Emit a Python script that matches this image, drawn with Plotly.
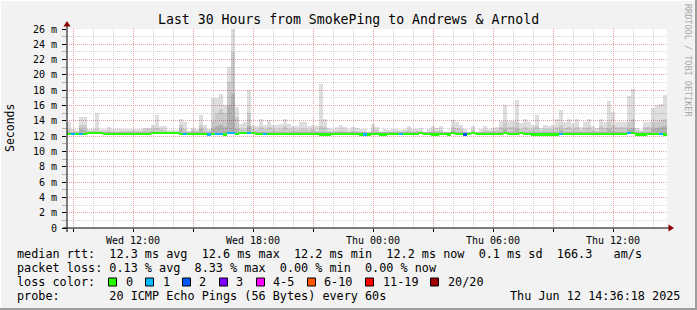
import plotly.graph_objects as go
import pandas as pd

# ---------------- data ----------------
title = "Last 30 Hours from SmokePing to Andrews & Arnold"
start = pd.Timestamp("2025-06-11 08:42")
end = pd.Timestamp("2025-06-12 14:42")
bin_minutes = 12

# smoke: highest ping per 12-min bin (ms)
smoke_max = [
    13.9, 12.9, 12.8, 14.5, 14.5, 13.0, 12.9, 15.0, 13.0, 13.0, 13.2, 12.9, 12.9, 13.0, 13.0,
    13.0, 13.0, 13.0, 13.0, 13.1, 13.1, 13.4, 14.8, 13.3, 13.3, 12.8, 12.8, 12.8, 14.2, 13.9,
    12.7, 13.1, 13.0, 14.8, 13.5, 13.0, 17.0, 17.0, 17.5, 16.1, 21.1, 28.0, 15.8, 13.6, 13.8,
    18.0, 13.5, 13.3, 14.3, 13.5, 14.1, 13.5, 13.4, 13.6, 14.3, 13.6, 13.3, 13.3, 13.8, 13.8,
    13.3, 13.5, 13.3, 18.8, 14.3, 13.1, 13.0, 13.2, 13.5, 13.2, 13.0, 13.2, 13.1, 12.9, 13.0,
    12.6, 13.6, 13.2, 12.6, 12.9, 12.8, 12.9, 13.0, 12.8, 13.0, 13.3, 12.9, 13.0, 13.1, 12.6,
    12.9, 13.3, 13.1, 13.3, 12.6, 12.6, 14.1, 13.9, 13.5, 12.9, 12.6, 13.3, 12.6, 12.9, 13.3,
    13.0, 13.1, 13.2, 14.0, 16.1, 14.0, 14.0, 16.7, 13.7, 14.2, 13.8, 13.5, 14.8, 13.1, 13.4,
    13.3, 13.4, 14.2, 15.4, 13.8, 14.3, 13.7, 14.2, 13.2, 13.8, 14.2, 13.3, 13.1, 14.3, 13.8,
    16.6, 15.2, 13.9, 13.9, 13.9, 17.2, 18.1, 13.1, 12.8, 13.9, 13.9, 15.7, 16.1, 16.2, 17.4,
]
# smoke: inner (mid) percentile per bin (ms)
smoke_mid = [
    13.0, 12.6, 12.6, 13.5, 13.4, 12.7, 12.7, 13.0, 12.7, 12.7, 12.8, 12.6, 12.6, 12.7, 12.7,
    12.7, 12.7, 12.7, 12.7, 12.9, 12.9, 13.0, 13.1, 12.9, 12.8, 12.6, 12.6, 12.6, 13.5, 13.0,
    12.5, 12.8, 12.7, 13.5, 13.0, 12.7, 14.0, 15.0, 15.5, 15.0, 19.1, 23.0, 14.5, 13.0, 13.0,
    15.0, 13.0, 12.8, 13.2, 12.9, 13.2, 12.9, 12.8, 12.9, 13.3, 12.9, 12.8, 12.8, 13.0, 13.0,
    12.8, 12.9, 12.7, 13.3, 13.2, 12.7, 12.6, 12.7, 12.8, 12.7, 12.6, 12.7, 12.7, 12.6, 12.6,
    12.5, 13.0, 12.8, 12.5, 12.6, 12.6, 12.6, 12.7, 12.6, 12.7, 12.8, 12.6, 12.7, 12.7, 12.5,
    12.6, 12.8, 12.7, 12.8, 12.5, 12.5, 13.2, 13.1, 12.9, 12.6, 12.5, 12.8, 12.5, 12.6, 12.8,
    12.7, 12.7, 12.8, 13.2, 13.8, 13.2, 13.2, 13.8, 13.0, 13.2, 13.0, 12.9, 13.3, 12.8, 12.9,
    12.9, 12.9, 13.2, 13.4, 13.1, 13.2, 13.0, 13.2, 12.8, 13.1, 13.2, 12.8, 12.7, 13.3, 13.1,
    13.8, 13.5, 13.2, 13.2, 13.2, 13.8, 14.2, 12.8, 12.6, 13.2, 13.2, 13.8, 13.9, 14.0, 14.3,
]
# smoke: innermost (dark) percentile per bin (ms)
smoke_dark = [
    12.5, 12.5, 12.5, 12.9, 12.8, 12.5, 12.5, 12.5, 12.5, 12.5, 12.5, 12.5, 12.5, 12.5, 12.5,
    12.5, 12.5, 12.5, 12.5, 12.5, 12.5, 12.5, 12.6, 12.5, 12.5, 12.5, 12.5, 12.5, 13.0, 12.6,
    12.5, 12.5, 12.5, 12.9, 12.6, 12.5, 13.0, 13.3, 13.5, 13.2, 15.9, 17.5, 13.0, 12.6, 12.6,
    13.3, 12.6, 12.5, 12.6, 12.5, 12.6, 12.5, 12.5, 12.5, 12.6, 12.5, 12.5, 12.5, 12.5, 12.5,
    12.5, 12.5, 12.5, 12.6, 12.6, 12.5, 12.5, 12.5, 12.5, 12.5, 12.5, 12.5, 12.5, 12.5, 12.5,
    12.5, 12.6, 12.5, 12.5, 12.5, 12.5, 12.5, 12.5, 12.5, 12.5, 12.5, 12.5, 12.5, 12.5, 12.5,
    12.5, 12.5, 12.5, 12.5, 12.5, 12.5, 12.7, 12.6, 12.6, 12.5, 12.5, 12.5, 12.5, 12.5, 12.5,
    12.5, 12.5, 12.5, 12.6, 12.9, 12.6, 12.6, 12.9, 12.6, 12.6, 12.6, 12.5, 12.6, 12.5, 12.5,
    12.5, 12.5, 12.6, 12.8, 12.6, 12.6, 12.5, 12.6, 12.5, 12.6, 12.6, 12.5, 12.5, 12.6, 12.6,
    13.0, 12.7, 12.6, 12.6, 12.6, 13.0, 13.1, 12.5, 12.5, 12.6, 12.6, 13.0, 13.1, 13.2, 13.3,
]
# median rtt per bin (ms)
median = [
    12.3, 12.3, 12.3, 12.3, 12.3, 12.4, 12.4, 12.4, 12.4, 12.3, 12.3, 12.3, 12.3, 12.3, 12.3,
    12.3, 12.3, 12.3, 12.3, 12.3, 12.3, 12.4, 12.4, 12.4, 12.4, 12.4, 12.4, 12.4, 12.3, 12.3,
    12.3, 12.3, 12.3, 12.3, 12.3, 12.2, 12.3, 12.3, 12.3, 12.2, 12.4, 12.4, 12.3, 12.4, 12.4,
    12.4, 12.4, 12.3, 12.3, 12.3, 12.3, 12.3, 12.3, 12.3, 12.3, 12.3, 12.3, 12.3, 12.3, 12.3,
    12.3, 12.3, 12.3, 12.2, 12.2, 12.2, 12.3, 12.3, 12.3, 12.3, 12.3, 12.3, 12.3, 12.2, 12.2,
    12.2, 12.3, 12.3, 12.2, 12.2, 12.3, 12.3, 12.3, 12.3, 12.3, 12.3, 12.3, 12.3, 12.4, 12.3,
    12.3, 12.2, 12.2, 12.3, 12.3, 12.2, 12.4, 12.3, 12.3, 12.2, 12.3, 12.4, 12.3, 12.3, 12.3,
    12.3, 12.3, 12.3, 12.3, 12.4, 12.3, 12.3, 12.3, 12.4, 12.3, 12.3, 12.2, 12.2, 12.2, 12.2,
    12.2, 12.2, 12.2, 12.3, 12.3, 12.3, 12.3, 12.3, 12.3, 12.3, 12.3, 12.3, 12.3, 12.3, 12.3,
    12.3, 12.3, 12.3, 12.3, 12.3, 12.4, 12.4, 12.2, 12.2, 12.2, 12.3, 12.3, 12.3, 12.3, 12.2,
]
# lost pings (of 20) per bin
loss = [
    0, 1, 0, 1, 0, 0, 0, 0, 0, 0, 0, 0, 0, 0, 0,
    0, 0, 0, 0, 0, 0, 0, 0, 0, 0, 0, 0, 0, 0, 1,
    0, 0, 0, 0, 0, 1, 0, 1, 1, 0, 1, 1, 0, 0, 0,
    1, 0, 0, 0, 1, 0, 0, 0, 0, 0, 0, 0, 0, 0, 0,
    0, 0, 0, 0, 0, 0, 0, 0, 0, 0, 0, 0, 0, 0, 1,
    0, 0, 0, 0, 0, 0, 0, 0, 1, 0, 0, 0, 0, 0, 0,
    0, 0, 0, 0, 0, 0, 0, 0, 0, 2, 0, 0, 0, 0, 0,
    0, 0, 0, 0, 0, 0, 0, 0, 0, 0, 0, 0, 0, 0, 0,
    0, 0, 0, 1, 0, 0, 0, 0, 0, 0, 0, 0, 0, 0, 0,
    0, 0, 0, 0, 0, 1, 0, 0, 0, 0, 0, 0, 0, 1, 0,
]
loss_labels = ["0", "1", "2", "3", "4-5", "6-10", "11-19", "20/20"]
loss_colors = ["#26ff00", "#00b8ff", "#0059ff", "#7e00ff", "#ff00ff", "#ff5500", "#ff0000", "#a10000"]
y_ticks = list(range(0, 27, 2))
y_ticktext = ["0" if v == 0 else f"{v} m" for v in y_ticks]

legend_lines = [
    "median rtt:  12.3 ms avg  12.6 ms max  12.2 ms min  12.2 ms now  0.1 ms sd  166.3   am/s",
    "packet loss: 0.13 % avg  8.33 % max  0.00 % min  0.00 % now",
    "loss color:",
    "probe:       20 ICMP Echo Pings (56 Bytes) every 60s",
]
stamp = "Thu Jun 12 14:36:18 2025"

# ---------------- layout helpers ----------------
W, H = 697, 310
L, R, T, B = 67, 667, 29, 228
MONO = "DejaVu Sans Mono"


def fx(x):
    return (x - L) / (R - L)


def fy(y):
    return (B - y) / (B - T)


def loss_color(n):
    if n <= 3:
        return loss_colors[n]
    if n <= 5:
        return loss_colors[4]
    if n <= 10:
        return loss_colors[5]
    if n <= 19:
        return loss_colors[6]
    return loss_colors[7]


centers = pd.date_range(start + pd.Timedelta(minutes=bin_minutes / 2), periods=len(median),
                        freq=f"{bin_minutes}min")
bw = bin_minutes * 60 * 1000

fig = go.Figure()
for arr, col in [(smoke_max, "rgba(0,0,0,0.13)"), (smoke_mid, "rgba(0,0,0,0.09)"),
                 (smoke_dark, "rgba(0,0,0,0.12)")]:
    fig.add_trace(go.Bar(x=centers, y=[a - m for a, m in zip(arr, median)], base=median,
                         width=bw, marker=dict(color=col, line=dict(width=0)),
                         hoverinfo="skip", showlegend=False))
fig.add_trace(go.Bar(x=centers, y=[0.32] * len(median), base=[m - 0.16 for m in median],
                     width=bw, marker=dict(color=[loss_color(n) for n in loss], line=dict(width=0)),
                     hoverinfo="skip", showlegend=False))

xt = pd.date_range("2025-06-11 09:00", "2025-06-12 14:00", freq="3h")
xtt = [t.strftime("%a %H:%M") if t.hour % 6 == 0 else "" for t in xt]

fig.update_layout(
    width=W, height=H, margin=dict(l=L, r=W - R, t=T, b=H - B),
    paper_bgcolor="#f2f2f2", plot_bgcolor="#ffffff",
    barmode="overlay", bargap=0,
    font=dict(family=MONO, size=10, color="#000000"),
    xaxis=dict(type="date", range=[start, end], tickvals=xt, ticktext=xtt,
               showgrid=True, gridcolor="#eba0a0", griddash="1px,1px", gridwidth=1,
               ticks="outside", ticklen=3, tickcolor="#000000", showline=False, zeroline=False,
               tickfont=dict(family=MONO, size=10, color="#000000"),
               minor=dict(dtick=3600000, tick0="2025-06-11 00:00", showgrid=True,
                          gridcolor="#d2d2d2", griddash="1px,1px", ticks="")),
    yaxis=dict(range=[0, 26], tickvals=y_ticks, ticktext=y_ticktext,
               showgrid=True, gridcolor="#eba0a0", griddash="1px,1px", gridwidth=1,
               ticks="outside", ticklen=4, tickcolor="#000000", showline=False, zeroline=False,
               ticklabelstandoff=3,
               tickfont=dict(family=MONO, size=10, color="#000000"),
               minor=dict(dtick=1, showgrid=True, gridcolor="#d2d2d2", griddash="1px,1px",
                          ticks="outside", ticklen=4, tickcolor="#b0b0b0")),
)

shapes = []
# axes lines + arrows
shapes.append(dict(type="line", xref="paper", yref="paper", x0=fx(L), x1=fx(L), y0=fy(232), y1=fy(24),
                   line=dict(color="#000000", width=1)))
shapes.append(dict(type="line", xref="paper", yref="paper", x0=fx(63), x1=fx(670), y0=fy(B), y1=fy(B),
                   line=dict(color="#000000", width=1)))
shapes.append(dict(type="path", xref="paper", yref="paper",
                   path=f"M {fx(63.5)} {fy(26.5)} L {fx(70.5)} {fy(26.5)} L {fx(67)} {fy(21)} Z",
                   fillcolor="#8b0000", line=dict(width=0)))
shapes.append(dict(type="path", xref="paper", yref="paper",
                   path=f"M {fx(668.5)} {fy(224.5)} L {fx(668.5)} {fy(231.5)} L {fx(674)} {fy(228)} Z",
                   fillcolor="#8b0000", line=dict(width=0)))
# frame
shapes.append(dict(type="rect", xref="paper", yref="paper", x0=fx(0), x1=fx(W), y0=fy(H - 2), y1=fy(H),
                   fillcolor="#9e9e9e", line=dict(width=0)))
shapes.append(dict(type="rect", xref="paper", yref="paper", x0=fx(W - 2), x1=fx(W), y0=fy(0), y1=fy(H),
                   fillcolor="#9e9e9e", line=dict(width=0)))
shapes.append(dict(type="rect", xref="paper", yref="paper", x0=fx(0), x1=fx(W - 2), y0=fy(0), y1=fy(1),
                   fillcolor="#ffffff", line=dict(width=0)))
shapes.append(dict(type="rect", xref="paper", yref="paper", x0=fx(0), x1=fx(1), y0=fy(0), y1=fy(H - 2),
                   fillcolor="#ffffff", line=dict(width=0)))

# loss color legend boxes
box_x = [108.5, 145.5, 182.5, 219.5, 256.5, 307.5, 365.5, 430.5]
lab_x = [124, 161, 197, 234, 271, 322, 381, 446]
annotations = []
for bx, lx, lab, col in zip(box_x, lab_x, loss_labels, loss_colors):
    shapes.append(dict(type="rect", xref="paper", yref="paper", x0=fx(bx), x1=fx(bx + 8),
                       y0=fy(286), y1=fy(278), fillcolor=col, line=dict(color="#000000", width=1)))
    annotations.append(dict(text=lab, x=fx(lx), y=fy(282), xref="paper", yref="paper",
                            xanchor="left", yanchor="middle", showarrow=False,
                            font=dict(family=MONO, size=11.8, color="#000000")))

for i, line in enumerate(legend_lines):
    annotations.append(dict(text=line.replace(" ", "\u00a0"), x=fx(15), y=fy(254 + 14 * i),
                            xref="paper", yref="paper", xanchor="left", yanchor="middle",
                            showarrow=False, font=dict(family=MONO, size=11.8, color="#000000")))
annotations.append(dict(text=stamp, x=fx(682), y=fy(296), xref="paper", yref="paper",
                        xanchor="right", yanchor="middle", showarrow=False,
                        font=dict(family=MONO, size=11.8, color="#000000")))
annotations.append(dict(text=title, x=fx(348.5), y=fy(19), xref="paper", yref="paper",
                        xanchor="center", yanchor="middle", showarrow=False,
                        font=dict(family=MONO, size=13.2, color="#000000")))
annotations.append(dict(text="Seconds", x=fx(10), y=fy(128), xref="paper", yref="paper",
                        xanchor="center", yanchor="middle", showarrow=False, textangle=-90,
                        font=dict(family=MONO, size=11.5, color="#000000")))
annotations.append(dict(text="RRDTOOL / TOBI OETIKER", x=fx(688), y=fy(60), xref="paper", yref="paper",
                        xanchor="center", yanchor="middle", showarrow=False, textangle=90,
                        font=dict(family=MONO, size=8.5, color="#a8a8a8")))

fig.update_layout(shapes=shapes, annotations=annotations)
fig.write_html("out.html")
